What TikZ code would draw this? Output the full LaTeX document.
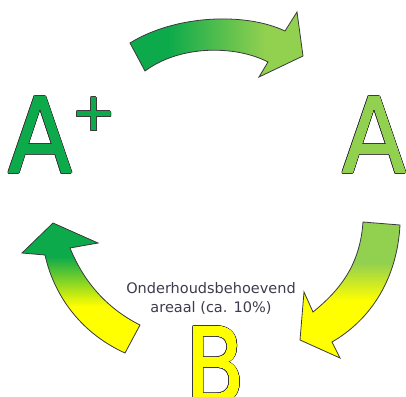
\documentclass[tikz,border=0pt]{standalone}
\usepackage{fontspec}
\setmainfont{DejaVu Sans}
\usepackage{graphicx}
\usepackage[copies]{contour}
\usetikzlibrary{positioning}

\definecolor{dgreen}{HTML}{0DAA4B}
\definecolor{lgreen}{HTML}{92D050}
\definecolor{byellow}{HTML}{FFFF00}
\definecolor{outl}{HTML}{3A3A3A}
\definecolor{labelgray}{HTML}{3C3C4E}

\pgfdeclarehorizontalshading{topshade}{100bp}{color(0bp)=(dgreen); color(36bp)=(dgreen); color(64bp)=(lgreen); color(100bp)=(lgreen)}
\pgfdeclareverticalshading{rightshade}{100bp}{color(0bp)=(byellow); color(46bp)=(byellow); color(60bp)=(lgreen); color(100bp)=(lgreen)}
\pgfdeclareverticalshading{leftshade}{100bp}{color(0bp)=(byellow); color(43bp)=(byellow); color(62bp)=(dgreen); color(100bp)=(dgreen)}

\contournumber{24}
% filled letter with a dark rim
\newcommand{\rimletter}[2]{%
\rlap{\contourlength{1.1pt}\textcolor{outl}{\contour{outl}{#2}}}%
\contourlength{0.15pt}\textcolor{#1}{\contour{#1}{#2}}}

\begin{document}
\begin{tikzpicture}[
x=1pt,y=-1pt,
letter/.style={
inner sep=0pt,
font=\fontsize{104}{104}\selectfont
},
bigarrow/.style={
draw=outl,
line width=0.8pt,
line join=miter
},
note/.style={
align=center,
text=labelgray,
font=\fontsize{14.5}{19}\selectfont
}
]
\useasboundingbox (0,0) rectangle (406,396);

\node[letter, anchor=base west] (aplus) at (8,173) {\scalebox{0.9}[1]{\rimletter{dgreen}{A}}};
\node[inner sep=0pt, font=\fontsize{52}{52}\selectfont] (plus) at (94,115) {\rimletter{dgreen}{+}};

\node[letter, anchor=base west] (a) at (342,173) {\scalebox{0.9}[1]{\rimletter{lgreen}{A}}};

\node[letter, anchor=base west] (b) at (185,403) {\scalebox{0.84}[1]{\rimletter{byellow}{B}}};

\node[note] (area) at (211,298) {Onderhoudsbehoevend\\areaal (ca. 10\%)};

% A+ -> A
\draw[bigarrow, shading=topshade]
(130,43) .. controls (175,15) and (245,12) .. (285,31)
-- (297,12) -- (303,56) -- (259,77) -- (268,62)
.. controls (235,45) and (180,45) .. (145,71) -- cycle;

% A -> B
\draw[bigarrow, shading=rightshade]
(363,222) -- (400,225)
.. controls (397,280) and (370,320) .. (332,342)
-- (340,358) -- (300,340) -- (304,292) -- (313,312)
.. controls (340,290) and (360,265) .. cycle;

% B -> A+
\draw[bigarrow, shading=leftshade]
(140,325) -- (125,353)
.. controls (85,335) and (55,300) .. (45,255)
-- (22,253) -- (53,223) -- (98,243) -- (70,248)
.. controls (85,285) and (110,310) .. cycle;

\end{tikzpicture}
\end{document}
